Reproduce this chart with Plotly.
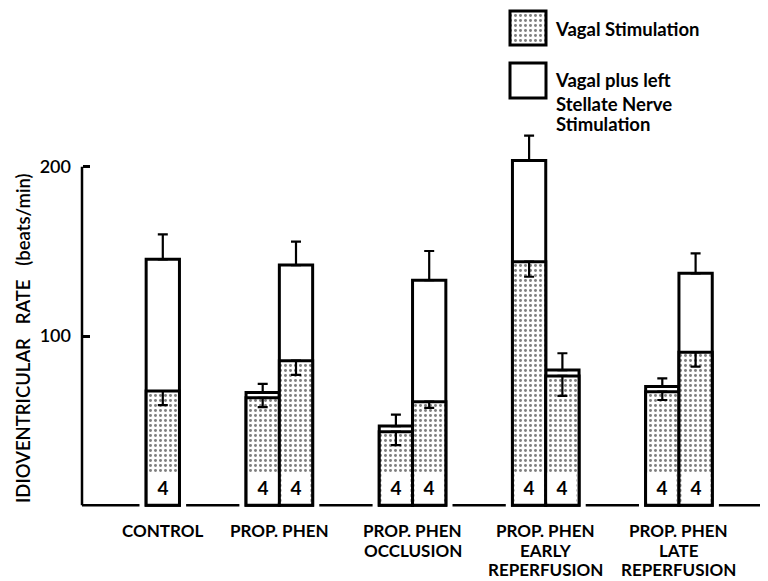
import plotly.graph_objects as go

# ---------------- data ----------------
group_labels = [
    ["CONTROL"],
    ["PROP. PHEN"],
    ["PROP. PHEN", "OCCLUSION"],
    ["PROP. PHEN", "EARLY", "REPERFUSION"],
    ["PROP. PHEN", "LATE", "REPERFUSION"],
]
# two bars per group (first, second); None = no bar
vagal = [[None, 67.5], [63.5, 85.4], [43.5, 61.2], [143.9, 76.4], [67.1, 90.4]]
vagal_err = [[None, 8.3], [5.5, 8.4], [7.9, 3.7], [8.9, 11.8], [4.9, 8.5]]
combined = [[None, 145.3], [66.7, 141.9], [46.8, 133.0], [203.6, 79.9], [70.1, 137.0]]
combined_err = [[None, 14.7], [5.0, 13.8], [6.7, 17.2], [14.7, 9.9], [4.9, 11.8]]
n_animals = [[None, 4], [4, 4], [4, 4], [4, 4], [4, 4]]
y_ticks = [100, 200]
y_tick_text = ["100", "200"]

# ---------------- layout constants (page pixels) ----------------
PAGE_W, PAGE_H = 768, 581
OFF = 8                  # default body margin of the html page
W, H = PAGE_W - OFF, PAGE_H - OFF
PX_UNIT = 33.3           # pixels per x unit (one bar width)
X0_PX = 129.5            # page pixel of first slot centre
Y0_PX = 505.3            # page pixel of y = 0
PX_PER_Y = 1.693         # pixels per y unit
AXIS_PX = 82
GROUP_STEP = 4
BAR_W = 1.0
FONT = "Lato"


def px_to_x(px):
    return (px - X0_PX) / PX_UNIT


def py_to_y(py):
    return (Y0_PX - py) / PX_PER_Y


def paper_x(px):
    return (px - OFF) / W


def paper_y(py):
    return 1 - (py - OFF) / H


xs, v_vals, v_err, c_vals, c_err, ns = [], [], [], [], [], []
group_centres = []
for g in range(len(vagal)):
    slots = []
    for s in range(2):
        if vagal[g][s] is None:
            continue
        xs.append(g * GROUP_STEP + s)
        slots.append(g * GROUP_STEP + s)
        v_vals.append(vagal[g][s])
        v_err.append(vagal_err[g][s])
        c_vals.append(combined[g][s])
        c_err.append(combined_err[g][s])
        ns.append(n_animals[g][s])
    group_centres.append(sum(slots) / len(slots))

fig = go.Figure()

line_style = dict(color="black", width=3)
stipple = dict(shape=".", fgcolor="black", bgcolor="white", size=5, solidity=0.28)

fig.add_trace(go.Bar(
    x=xs, y=c_vals, width=BAR_W, name="Vagal plus left Stellate Nerve Stimulation",
    marker=dict(color="white", line=line_style),
    error_y=dict(type="data", array=c_err, arrayminus=[0] * len(c_err), symmetric=False,
                 color="black", thickness=2.2, width=5),
    showlegend=False,
))
fig.add_trace(go.Bar(
    x=xs, y=v_vals, width=BAR_W, name="Vagal Stimulation",
    marker=dict(color="white", line=line_style, pattern=stipple),
    error_y=dict(type="data", array=[0] * len(v_err), arrayminus=v_err, symmetric=False,
                 color="black", thickness=2.2, width=5),
    showlegend=False,
))

# legend keys (drawn as small bars at the legend position)
key_boxes = [(510, 546, 11, 45), (510, 546, 63, 98)]
for i, (xl, xr, yt, yb) in enumerate(key_boxes):
    marker = dict(color="white", line=line_style)
    if i == 0:
        marker["pattern"] = stipple
    fig.add_trace(go.Bar(
        x=[px_to_x((xl + xr) / 2)], y=[py_to_y(yt) - py_to_y(yb)], base=[py_to_y(yb)],
        width=[(xr - xl) / PX_UNIT], marker=marker, showlegend=False, hoverinfo="skip",
    ))

shapes = []
# y axis line (0..200)
shapes.append(dict(type="line", xref="paper", yref="y", x0=paper_x(AXIS_PX), x1=paper_x(AXIS_PX),
                   y0=0, y1=max(y_ticks), line=dict(color="black", width=2.5)))
# baseline segments between groups
gap = 0.2
lefts, rights = [], []
for g in range(len(vagal)):
    first = 0 if vagal[g][0] is not None else 1
    lefts.append(g * GROUP_STEP + first - BAR_W / 2)
    rights.append(g * GROUP_STEP + 1 + BAR_W / 2)
seg_start = px_to_x(AXIS_PX)
for g in range(len(vagal)):
    shapes.append(dict(type="line", xref="x", yref="y", x0=seg_start, x1=lefts[g] - gap,
                       y0=0, y1=0, line=dict(color="black", width=2.5)))
    seg_start = rights[g] + gap
shapes.append(dict(type="line", xref="x", yref="y", x0=seg_start, x1=px_to_x(PAGE_W),
                   y0=0, y1=0, line=dict(color="black", width=2.5)))

annotations = []
# n labels inside bars
for x, n in zip(xs, ns):
    annotations.append(dict(x=x, y=py_to_y(487), xref="x", yref="y", text=f"<b>{n}</b>",
                            showarrow=False, bgcolor="white", width=26, height=27,
                            font=dict(family=FONT, size=19, color="black")))
# group labels, centred under each group of bars
line_py = [530, 550, 569]
for g, lines in enumerate(group_labels):
    for k, t in enumerate(lines):
        annotations.append(dict(x=group_centres[g], y=paper_y(line_py[k]), xref="x", yref="paper",
                                text=t, showarrow=False, xanchor="center", yanchor="middle",
                                font=dict(family=FONT, size=17, color="black", weight=700)))
# legend texts
legend_lines = [("Vagal Stimulation", 553, 29), ("Vagal plus left", 553, 80),
                ("Stellate Nerve", 554, 104), ("Stimulation", 554, 124)]
for t, lx, ly in legend_lines:
    annotations.append(dict(x=paper_x(lx), y=paper_y(ly), xref="paper", yref="paper", text=t,
                            showarrow=False, xanchor="left", yanchor="middle",
                            font=dict(family=FONT, size=18.5, color="black", weight=700)))
# y-axis title
annotations.append(dict(x=paper_x(23), y=paper_y(338), xref="paper", yref="paper",
                        text="IDIOVENTRICULAR   RATE   (beats/min)", textangle=-90,
                        showarrow=False, xanchor="center", yanchor="middle",
                        font=dict(family=FONT, size=18.5, color="black", weight=600)))

fig.update_layout(
    width=W, height=H, margin=dict(l=0, r=0, t=0, b=0),
    paper_bgcolor="white", plot_bgcolor="white",
    barmode="overlay", showlegend=False,
    xaxis=dict(range=[px_to_x(OFF), px_to_x(PAGE_W)], visible=False, fixedrange=True),
    yaxis=dict(range=[py_to_y(PAGE_H), py_to_y(OFF)], anchor="free", position=paper_x(AXIS_PX),
               tickvals=y_ticks, ticktext=y_tick_text, ticks="inside", ticklen=7,
               tickwidth=2.5, tickcolor="black", showline=False, showgrid=False,
               zeroline=False, automargin=False, ticklabelstandoff=11,
               tickfont=dict(family=FONT, size=18, color="black", weight=600)),
    shapes=shapes, annotations=annotations,
)

fig.write_html("out.html")
